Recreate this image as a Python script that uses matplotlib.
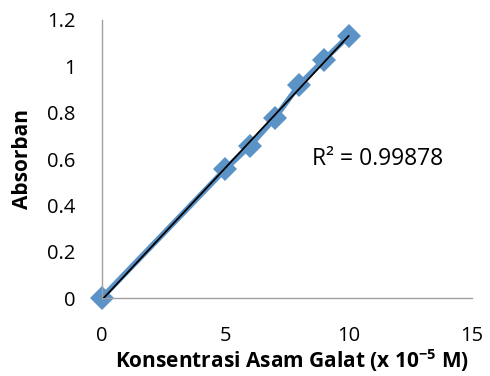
import numpy as np
import matplotlib.pyplot as plt

plt.rcParams['font.family'] = ['Open Sans', 'DejaVu Sans']

konsentrasi = [0, 5, 6, 7, 8, 9, 10]
absorban = [0.002, 0.556, 0.657, 0.775, 0.92, 1.027, 1.131]
r2_text = "R² = 0.99878"

fig = plt.figure(figsize=(4.9, 3.76), dpi=100)
ax = fig.add_axes([0.208, 0.207, 0.755, 0.74])

ax.plot(konsentrasi, absorban, color='#5b93c7', lw=4, marker='D', markersize=12,
        markeredgewidth=0, zorder=2, clip_on=False)

# linear trendline
slope, intercept = np.polyfit(konsentrasi, absorban, 1)
xs = np.array([min(konsentrasi), max(konsentrasi)])
ax.plot(xs, slope * xs + intercept, color='black', lw=1.3, zorder=3)

ax.text(8.5, 0.6, r2_text, fontsize=16.5, va='center', ha='left')

ax.set_xlim(0, 15)
ax.set_ylim(0, 1.2)
ax.set_xticks([0, 5, 10, 15])
ax.set_yticks([0, 0.2, 0.4, 0.6, 0.8, 1.0, 1.2])
ax.set_yticklabels(['0', '0.2', '0.4', '0.6', '0.8', '1', '1.2'])
ax.tick_params(length=0, labelsize=14.5)
ax.tick_params(axis='y', pad=19)
ax.tick_params(axis='x', pad=20)

for s in ['top', 'right']:
    ax.spines[s].set_visible(False)
for s in ['left', 'bottom']:
    ax.spines[s].set_color('#a0a0a0')
    ax.spines[s].set_linewidth(1)

ax.set_xlabel('Konsentrasi Asam Galat (x 10$^{\\mathregular{-5}}$ M)', fontsize=15,
              fontweight='bold', labelpad=2)
ax.xaxis.set_label_coords(0.515, -0.175)
ax.set_ylabel('Absorban', fontsize=15, fontweight='bold', labelpad=10)

fig.savefig('out.png', dpi=100)
